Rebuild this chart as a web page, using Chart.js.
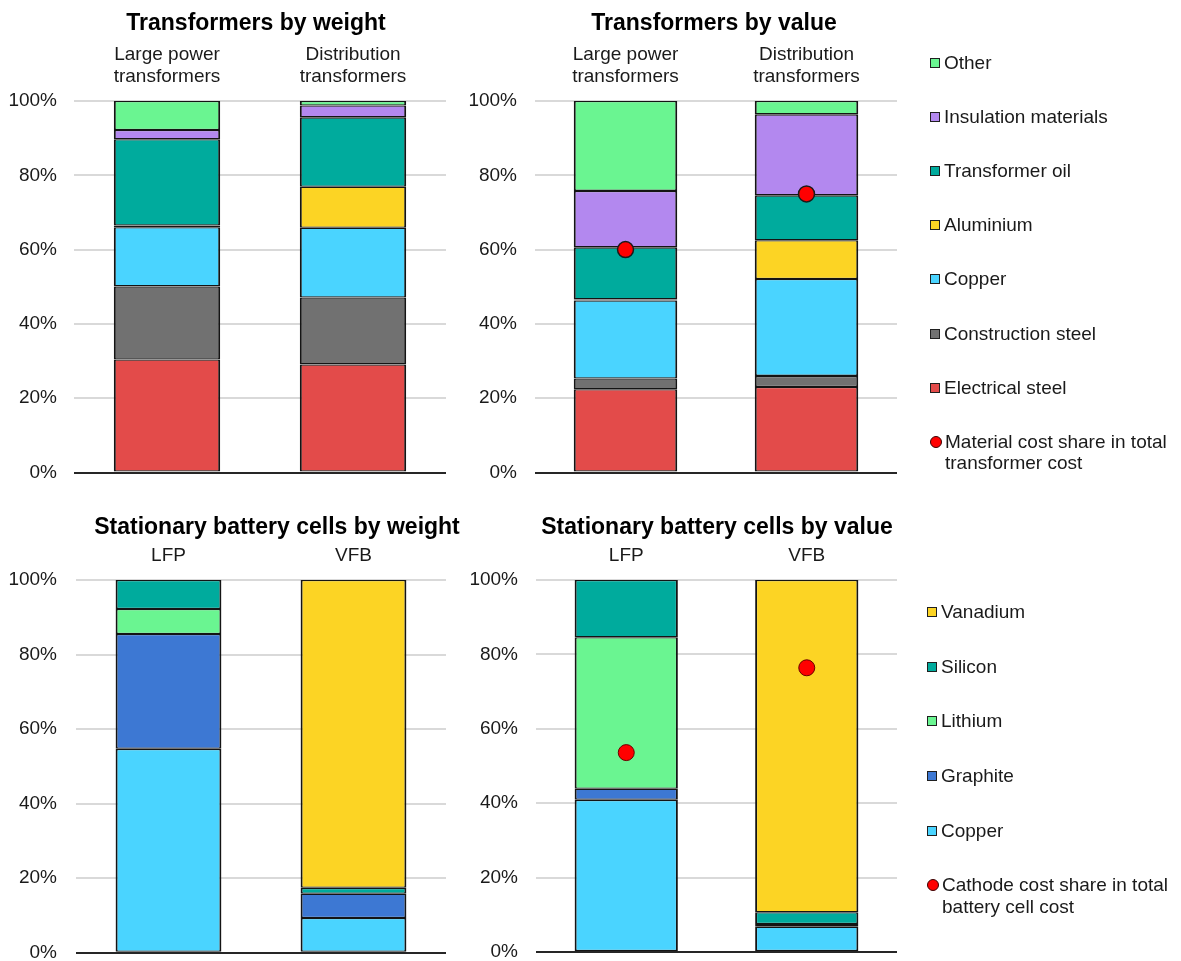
<!DOCTYPE html>
<html>
<head>
<meta charset="utf-8">
<script src="https://cdn.jsdelivr.net/npm/chart.js@4.4.1/dist/chart.umd.min.js"></script>
<style>
	body { margin: 0; background: #fff; width: 1181px; height: 961px; overflow: hidden; position: relative; font-family: "Liberation Sans", Arial, sans-serif; }
	canvas { position: absolute; }
	.legend { position: absolute; color: #1a1a1a; font-size: 19px; line-height: 21.6px; }
	.legend .item { position: absolute; left: 0; display: flex; align-items: flex-start; white-space: nowrap; }
	.legend .box { width: 10px; height: 10px; box-sizing: border-box; border: 1.5px solid #1f1f1f; margin-top: 6px; margin-right: 4px; flex: none; }
	.legend .dot { width: 12px; height: 12px; border-radius: 50%; background: #ff0000; box-sizing: border-box; border: 1px solid #3a0000; margin-top: 5px; margin-right: 3px; flex: none; }
</style>
</head>
<body>
<canvas id="tw" width="512" height="490" style="left:0px;top:0px"></canvas>
<canvas id="tv" width="506" height="490" style="left:461px;top:0px"></canvas>
<canvas id="bw" width="554" height="471" style="left:0px;top:490px"></canvas>
<canvas id="bv" width="510" height="471" style="left:462px;top:490px"></canvas>
<div class="legend" id="legendTop" style="left:930px;top:0px"></div>
<div class="legend" id="legendBottom" style="left:927px;top:0px"></div>
<script>
// transformers: categories and materials (bottom of stack first)
var transformerCats = [['Large power', 'transformers'], ['Distribution', 'transformers']];
var transformerMaterials = ['Electrical steel', 'Construction steel', 'Copper', 'Aluminium', 'Transformer oil', 'Insulation materials', 'Other'];
var transformerColors = ['#e34b4a', '#717171', '#4ad4ff', '#fcd424', '#00ab9d', '#b388ef', '#6af591'];

var weightLarge = [30.4, 19.7, 15.9, 0.5, 23.2, 2.5, 7.8];
var weightDist = [29.1, 18.0, 18.8, 11.0, 18.7, 3.2, 1.2];
var valueLarge = [22.4, 2.9, 21.0, 0.3, 14.0, 15.2, 24.2];
var valueDist = [23.0, 3.0, 26.1, 10.4, 12.1, 21.8, 3.6];
var materialCostShare = [60, 75];

// stationary batteries
var batteryCats = ['LFP', 'VFB'];
var batteryMaterials = ['Copper', 'Graphite', 'Lithium', 'Silicon', 'Vanadium'];
var batteryColors = ['#4ad4ff', '#3d78d3', '#6af591', '#00ab9d', '#fcd424'];

var weightLFP = [54.7, 30.8, 6.7, 7.8, 0];
var weightVFB = [9.3, 6.5, 0, 1.6, 82.6];
var valueLFP = [40.9, 3.0, 40.7, 15.4, 0];
var valueVFB = [6.8, 0.7, 0, 3.2, 89.3];
var cathodeCostShare = [53.6, 76.4];

var yTicks = [0, 20, 40, 60, 80, 100];

Chart.defaults.font.family = '"Liberation Sans", Arial, sans-serif';
Chart.defaults.color = '#1a1a1a';

function makeChart(id, cfg) {
	var datasets = cfg.names.map(function(name, i) {
		return {
			type: 'bar',
			label: name,
			// a zero share is simply not drawn
			data: cfg.columns.map(function(col) { return col[i] === 0 ? null : col[i]; }),
			backgroundColor: cfg.colors[i],
			borderColor: '#141414',
			borderWidth: { left: 2, right: 2, top: 1.3, bottom: 1.3 },
			borderSkipped: false,
			barPercentage: 0.572,
			categoryPercentage: 1
		};
	});

	if (cfg.dots) {
		datasets.push({
			type: 'line',
			label: cfg.dotLabel,
			data: cfg.dots,
			stack: 'dots',
			order: -1,
			showLine: false,
			pointRadius: 8,
			pointBackgroundColor: '#ff0000',
			pointBorderColor: cfg.dotBorder,
			pointBorderWidth: cfg.dotBorderWidth
		});
	}

	return new Chart(document.getElementById(id), {
		data: {
			labels: cfg.cats,
			datasets: datasets
		},
		options: {
			responsive: false,
			animation: false,
			events: [],
			layout: {
				padding: { left: 0, top: 0, right: 0, bottom: cfg.padBottom }
			},
			plugins: {
				legend: { display: false },
				tooltip: { enabled: false },
				title: {
					display: true,
					text: cfg.title,
					color: '#000',
					font: { size: 23, weight: 'bold' },
					padding: { top: cfg.titleTop, bottom: 0 }
				}
			},
			scales: {
				x: {
					type: 'category',
					position: 'top',
					stacked: true,
					grid: { display: false },
					border: { display: false },
					ticks: {
						font: { size: 19, lineHeight: 1.16 },
						color: '#1a1a1a',
						padding: 5,
						maxRotation: 0,
						autoSkip: false
					},
					afterFit: function(s) { s.height = cfg.xHeight; }
				},
				y: {
					stacked: true,
					min: 0,
					max: 100,
					afterBuildTicks: function(s) {
						s.ticks = yTicks.map(function(v) { return { value: v }; });
					},
					grid: {
						drawTicks: false,
						lineWidth: 2,
						color: function(ctx) { return ctx.tick && ctx.tick.value === 0 ? '#262626' : '#d9d9d9'; }
					},
					border: { display: false },
					ticks: {
						font: { size: 19 },
						color: '#1a1a1a',
						padding: cfg.yPad,
						callback: function(v) { return v + '%'; }
					},
					afterFit: function(s) {
						s.width = cfg.yWidth;
						s.paddingTop = 0;
						s.paddingBottom = 0;
					}
				},
				// empty room on the right so the title centres where it should
				spacer: {
					type: 'linear',
					axis: 'y',
					position: 'right',
					grid: { display: false },
					border: { display: false },
					ticks: { display: false },
					afterFit: function(s) {
						s.width = cfg.padRight;
						s.paddingTop = 0;
						s.paddingBottom = 0;
					}
				}
			}
		}
	});
}

makeChart('tw', {
	title: 'Transformers by weight',
	cats: transformerCats,
	names: transformerMaterials,
	colors: transformerColors,
	columns: [weightLarge, weightDist],
	padRight: 66, padBottom: 17.5, titleTop: 9.5, xHeight: 63.9, yWidth: 74, yPad: 17
});

makeChart('tv', {
	title: 'Transformers by value',
	cats: transformerCats,
	names: transformerMaterials,
	colors: transformerColors,
	columns: [valueLarge, valueDist],
	dots: materialCostShare,
	dotLabel: 'Material cost share in total transformer cost',
	dotBorder: '#1a1a1a', dotBorderWidth: 1.5,
	padRight: 70, padBottom: 17.5, titleTop: 9.5, xHeight: 63.9, yWidth: 74, yPad: 18
});

makeChart('bw', {
	title: 'Stationary battery cells by weight',
	cats: batteryCats,
	names: batteryMaterials,
	colors: batteryColors,
	columns: [weightLFP, weightVFB],
	padRight: 108, padBottom: 8.3, titleTop: 24, xHeight: 38.4, yWidth: 76, yPad: 19
});

makeChart('bv', {
	title: 'Stationary battery cells by value',
	cats: batteryCats,
	names: batteryMaterials,
	colors: batteryColors,
	columns: [valueLFP, valueVFB],
	dots: cathodeCostShare,
	dotLabel: 'Cathode cost share in total battery cell cost',
	dotBorder: '#6a0000', dotBorderWidth: 1,
	padRight: 75, padBottom: 8.3, titleTop: 24, xHeight: 38.4, yWidth: 74, yPad: 18
});

// html legends, top item first
function buildLegend(id, names, colors, dotText, firstCenter, step) {
	var el = document.getElementById(id);
	var items = names.map(function(n, i) { return { text: n, color: colors[i] }; }).reverse();
	items.push({ text: dotText, dot: true });

	items.forEach(function(it, i) {
		var row = document.createElement('div');
		row.className = 'item';
		row.style.top = (firstCenter + i * step - 10.8) + 'px';
		var mark = document.createElement('span');
		if (it.dot) {
			mark.className = 'dot';
		} else {
			mark.className = 'box';
			mark.style.background = it.color;
		}
		var label = document.createElement('span');
		label.innerText = it.text;
		row.appendChild(mark);
		row.appendChild(label);
		el.appendChild(row);
	});
}

buildLegend('legendTop', transformerMaterials, transformerColors, 'Material cost share in total\ntransformer cost', 62.7, 54.14);
buildLegend('legendBottom', batteryMaterials, batteryColors, 'Cathode cost share in total\nbattery cell cost', 611.7, 54.66);
</script>
</body>
</html>
